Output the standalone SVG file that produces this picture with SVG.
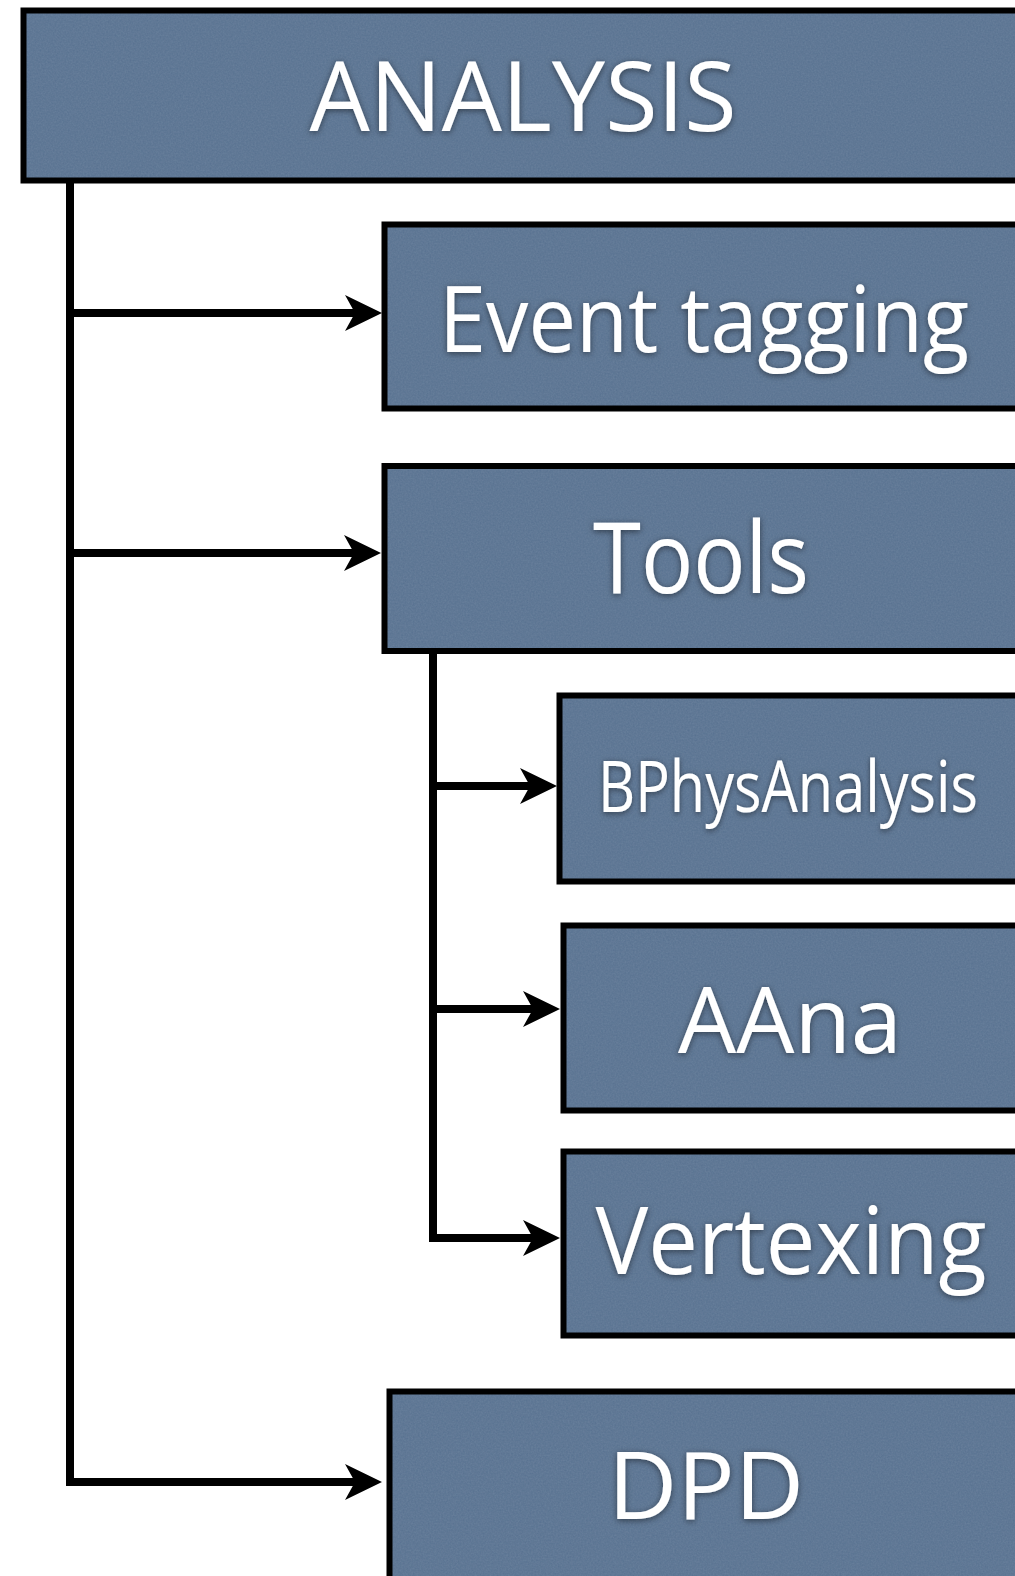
<svg xmlns="http://www.w3.org/2000/svg" width="1015" height="1576" viewBox="0 0 1015 1576">
<style>
.bg{fill:#56708f;filter:url(#grain)}
.frame{fill:none;stroke:#000;stroke-width:6}
.lbl{fill:#fff;font-family:"Open Sans","Liberation Sans",sans-serif;text-anchor:middle;filter:url(#shadow)}
.wire{fill:none;stroke:#000;stroke-width:8;stroke-linecap:square}
.arr{fill:none;stroke:#000;stroke-width:8}
</style>
<defs>
<filter id="shadow" x="-10%" y="-30%" width="120%" height="160%">
<feDropShadow dx="0" dy="1.5" stdDeviation="3" flood-color="#000" flood-opacity="0.5"/>
</filter>
<filter id="grain" x="0" y="0" width="100%" height="100%">
<feTurbulence type="fractalNoise" baseFrequency="0.6" numOctaves="2" seed="3" result="n"/>
<feColorMatrix in="n" type="matrix" values="0 0 0 0 0.33  0 0 0 0 0.43  0 0 0 0 0.56  0 0 0 0.2 0" result="c"/>
<feComposite in="c" in2="SourceGraphic" operator="atop"/>
</filter>
<marker id="ah" markerUnits="userSpaceOnUse" viewBox="0 0 40 40" markerWidth="40" markerHeight="40" refX="26" refY="20" orient="auto">
<path d="M1,2 L38,20 L1,38 L11,20 Z" fill="#000"/>
</marker>
</defs>
<rect width="1015" height="1576" fill="#fff"/>
<g id="connectors">
<path class="wire" d="M70,179 V1482"/>
<path class="arr" d="M67,313 H370" marker-end="url(#ah)"/>
<path class="arr" d="M67,553 H369" marker-end="url(#ah)"/>
<path class="arr" d="M67,1482 H370" marker-end="url(#ah)"/>
<path class="wire" d="M433,654 V1238"/>
<path class="arr" d="M430,786 H545" marker-end="url(#ah)"/>
<path class="arr" d="M430,1009 H548" marker-end="url(#ah)"/>
<path class="arr" d="M430,1238 H548" marker-end="url(#ah)"/>
</g>
<g id="analysis">
<rect class="bg" x="23.5" y="10.5" width="1000" height="170"/>
<rect class="frame" x="23.5" y="10.5" width="1000" height="170"/>
<text class="lbl" x="523" y="131" font-size="97" textLength="427" lengthAdjust="spacingAndGlyphs">ANALYSIS</text>
</g>
<g id="event-tagging">
<rect class="bg" x="384.5" y="224.5" width="640" height="184"/>
<rect class="frame" x="384.5" y="224.5" width="640" height="184"/>
<text class="lbl" x="704" y="352" font-size="91" textLength="530" lengthAdjust="spacingAndGlyphs">Event tagging</text>
</g>
<g id="tools">
<rect class="bg" x="384.5" y="466" width="640" height="185"/>
<rect class="frame" x="384.5" y="466" width="640" height="185"/>
<text class="lbl" x="701" y="593" font-size="98" textLength="216" lengthAdjust="spacingAndGlyphs">Tools</text>
</g>
<g id="bphysanalysis">
<rect class="bg" x="559.5" y="695.5" width="470" height="186"/>
<rect class="frame" x="559.5" y="695.5" width="470" height="186"/>
<text class="lbl" transform="translate(788,812) scale(0.8,1)" x="0" y="0" font-size="72">BPhysAnalysis</text>
</g>
<g id="aana">
<rect class="bg" x="563.5" y="925.5" width="470" height="185"/>
<rect class="frame" x="563.5" y="925.5" width="470" height="185"/>
<text class="lbl" x="790" y="1053" font-size="92" textLength="224" lengthAdjust="spacingAndGlyphs">AAna</text>
</g>
<g id="vertexing">
<rect class="bg" x="563.5" y="1151.5" width="470" height="184"/>
<rect class="frame" x="563.5" y="1151.5" width="470" height="184"/>
<text class="lbl" x="791" y="1274" font-size="94" textLength="391" lengthAdjust="spacingAndGlyphs">Vertexing</text>
</g>
<g id="dpd">
<rect class="bg" x="389.5" y="1391.5" width="640" height="300"/>
<rect class="frame" x="389.5" y="1391.5" width="640" height="300"/>
<text class="lbl" x="706" y="1519" font-size="94" textLength="196" lengthAdjust="spacingAndGlyphs">DPD</text>
</g>
</svg>
